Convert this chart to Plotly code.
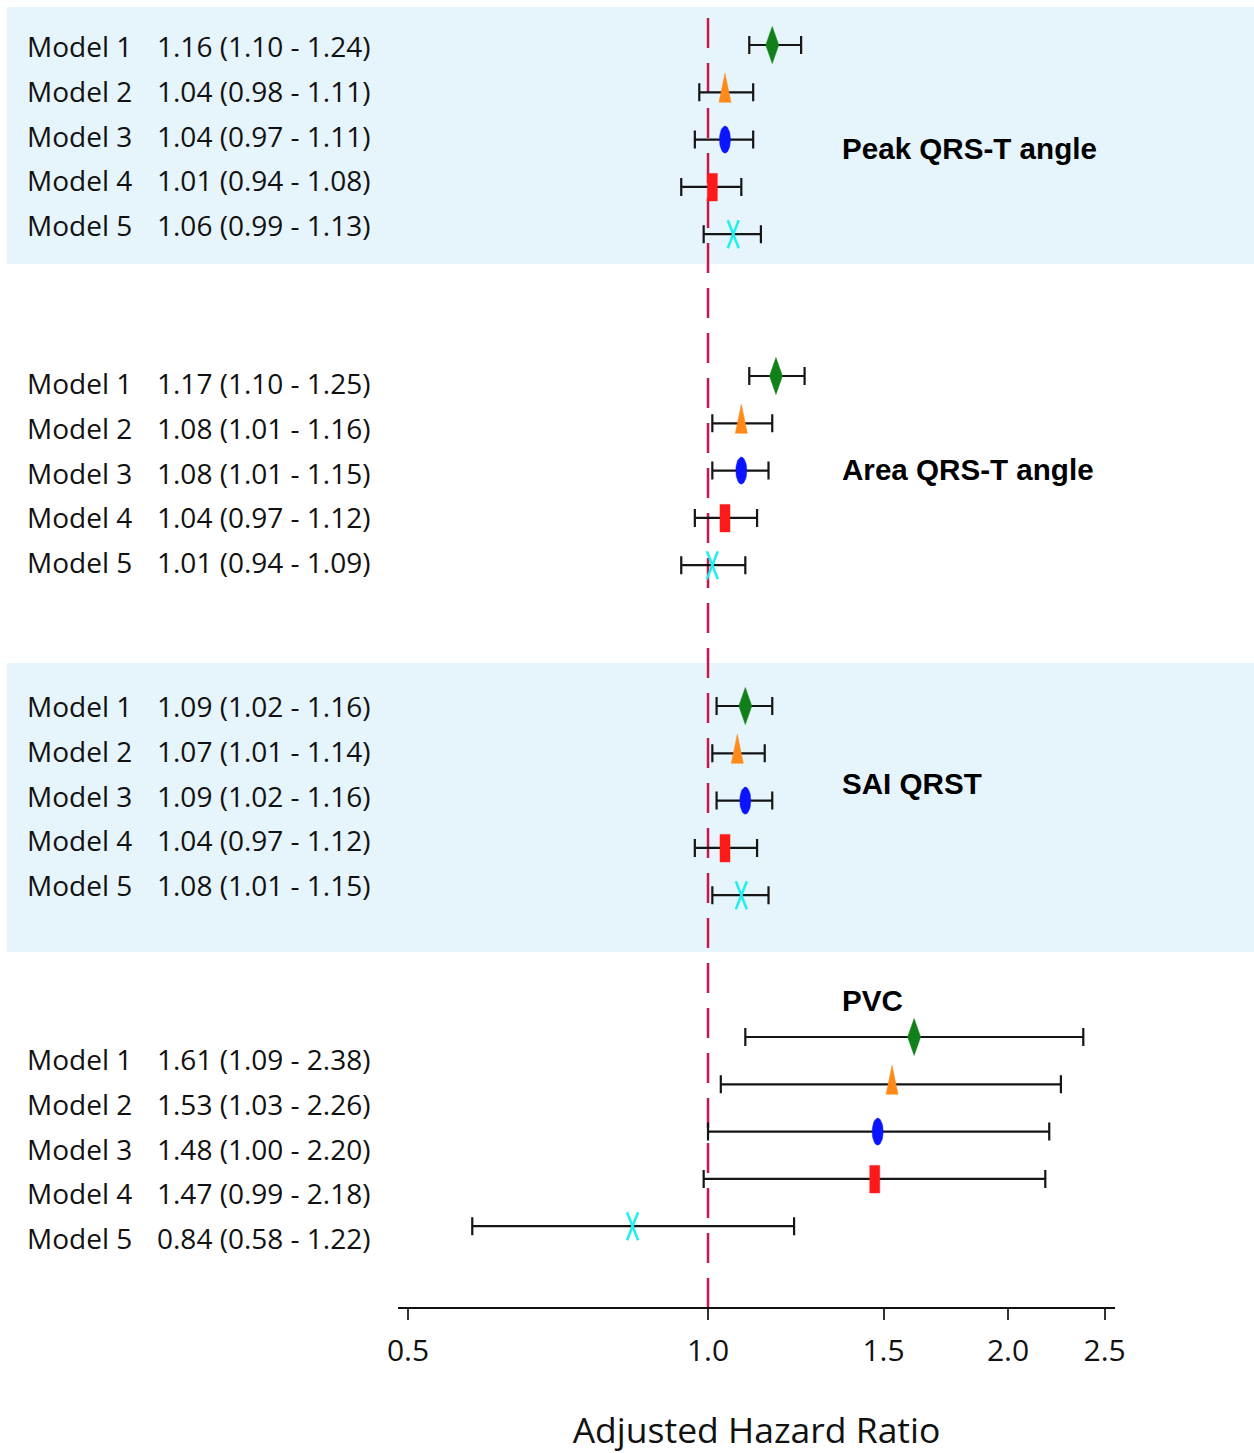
import math
import plotly.graph_objects as go

# ---------------- data ----------------
groups = ["Peak QRS-T angle", "Area QRS-T angle", "SAI QRST", "PVC"]
models = ["Model 1", "Model 2", "Model 3", "Model 4", "Model 5"]

hr_peak = [1.16, 1.04, 1.04, 1.01, 1.06]
lo_peak = [1.10, 0.98, 0.97, 0.94, 0.99]
hi_peak = [1.24, 1.11, 1.11, 1.08, 1.13]

hr_area = [1.17, 1.08, 1.08, 1.04, 1.01]
lo_area = [1.10, 1.01, 1.01, 0.97, 0.94]
hi_area = [1.25, 1.16, 1.15, 1.12, 1.09]

hr_sai = [1.09, 1.07, 1.09, 1.04, 1.08]
lo_sai = [1.02, 1.01, 1.02, 0.97, 1.01]
hi_sai = [1.16, 1.14, 1.16, 1.12, 1.15]

hr_pvc = [1.61, 1.53, 1.48, 1.47, 0.84]
lo_pvc = [1.09, 1.03, 1.00, 0.99, 0.58]
hi_pvc = [2.38, 2.26, 2.20, 2.18, 1.22]

hr_all = [hr_peak, hr_area, hr_sai, hr_pvc]
lo_all = [lo_peak, lo_area, lo_sai, lo_pvc]
hi_all = [hi_peak, hi_area, hi_sai, hi_pvc]

tick_vals = [0.5, 1.0, 1.5, 2.0, 2.5]
tick_text = ["0.5", "1.0", "1.5", "2.0", "2.5"]
ref_value = 1.0
x_title = "Adjusted Hazard Ratio"

# ---------------- layout / style constants ----------------
W, H = 1254, 1453
ML, MR, MT, MB = 398, 139, 0, 146
PLOT_W = W - ML - MR
PLOT_H = H - MT - MB
XR = [-0.3111, 0.4084]          # log10 range of x axis
PX_PER_DEC = PLOT_W / (XR[1] - XR[0])

mk_start = [45, 376, 706, 1037]  # first marker row of each group (px from top)
mk_step = 47.3
tx_start = [46, 383, 706, 1059]  # first text row of each group
tx_step = 44.8
label_y = [148, 469, 783, 1000]
label_x_px = 840
model_x_px = 25
value_x_px = 155
bands = [(7, 264), (663, 952)]
band_color = "#e6f4fc"
ref_color = "#c8174a"
err_color = "#151515"
colors = ["#12801a", "#ff8a1a", "#0a14ff", "#ff1a1a", "#1ef0f0"]

TEXT_FONT = "Open Sans, Noto Sans, sans-serif"
LABEL_FONT = "Liberation Sans, Arial, sans-serif"


def px_x(px):
    return (px - ML) / PLOT_W


def shape_pts(kind):
    if kind == 0:   # diamond
        return [(0, -18.5), (6.5, 0), (0, 18.5), (-6.5, 0), (0, -18.5)]
    if kind == 1:   # triangle
        return [(0, -19), (6, 10), (-6, 10), (0, -19)]
    if kind == 2:   # ellipse
        return [(5.5 * math.cos(2 * math.pi * k / 40), 13.5 * math.sin(2 * math.pi * k / 40)) for k in range(41)]
    if kind == 3:   # rectangle
        return [(-5, -13.5), (5, -13.5), (5, 14), (-5, 14), (-5, -13.5)]
    return None


fig = go.Figure()

# reference line
fig.add_trace(go.Scatter(
    x=[ref_value, ref_value], y=[18, PLOT_H], mode="lines",
    line=dict(color=ref_color, width=2.5, dash="30px,15px"),
    hoverinfo="skip", showlegend=False))

# error bars
ex, ey, ep, em = [], [], [], []
for g in range(len(groups)):
    for m in range(len(models)):
        ex.append(hr_all[g][m])
        ey.append(mk_start[g] + m * mk_step)
        ep.append(hi_all[g][m] - hr_all[g][m])
        em.append(hr_all[g][m] - lo_all[g][m])
fig.add_trace(go.Scatter(
    x=ex, y=ey, mode="markers",
    marker=dict(size=1, color="rgba(0,0,0,0)"),
    error_x=dict(type="data", symmetric=False, array=ep, arrayminus=em,
                 color=err_color, thickness=2.2, width=9),
    hoverinfo="skip", showlegend=False))

# markers (drawn as shapes derived from each estimate)
for m in range(len(models)):
    xs, ys = [], []
    for g in range(len(groups)):
        cx = hr_all[g][m]
        cy = mk_start[g] + m * mk_step
        if m == 4:
            for (a, b) in [((-5.5, -14), (5.5, 14)), ((5.5, -14), (-5.5, 14))]:
                xs += [cx * 10 ** (a[0] / PX_PER_DEC), cx * 10 ** (b[0] / PX_PER_DEC), None]
                ys += [cy + a[1], cy + b[1], None]
        else:
            for (dx, dy) in shape_pts(m):
                xs.append(cx * 10 ** (dx / PX_PER_DEC))
                ys.append(cy + dy)
            xs.append(None)
            ys.append(None)
    if m == 4:
        fig.add_trace(go.Scatter(x=xs, y=ys, mode="lines",
                                 line=dict(color=colors[m], width=2.5),
                                 hoverinfo="skip", showlegend=False))
    else:
        fig.add_trace(go.Scatter(x=xs, y=ys, mode="lines", fill="toself",
                                 fillcolor=colors[m], line=dict(color=colors[m], width=0.5),
                                 hoverinfo="skip", showlegend=False))

# bands
shapes = []
for (y0, y1) in bands:
    shapes.append(dict(type="rect", xref="paper", yref="y",
                       x0=px_x(7), x1=px_x(W), y0=y0, y1=y1,
                       fillcolor=band_color, line=dict(width=0), layer="below"))

# text annotations
annotations = []
for g in range(len(groups)):
    for m in range(len(models)):
        ty = tx_start[g] + m * tx_step
        annotations.append(dict(
            x=px_x(model_x_px), xref="paper", y=ty, yref="y",
            text=models[m], showarrow=False, xanchor="left", yanchor="middle",
            font=dict(family=TEXT_FONT, size=28, color="#111")))
        annotations.append(dict(
            x=px_x(value_x_px), xref="paper", y=ty, yref="y",
            text=f"{hr_all[g][m]:.2f} ({lo_all[g][m]:.2f} - {hi_all[g][m]:.2f})",
            showarrow=False, xanchor="left", yanchor="middle",
            font=dict(family=TEXT_FONT, size=28, color="#111")))
    annotations.append(dict(
        x=px_x(label_x_px), xref="paper", y=label_y[g], yref="y",
        text=f"<b>{groups[g]}</b>", showarrow=False, xanchor="left", yanchor="middle",
        font=dict(family=LABEL_FONT, size=29.6, color="#000")))

fig.update_layout(
    width=W, height=H, autosize=False,
    margin=dict(l=ML, r=MR, t=MT, b=MB, pad=0),
    paper_bgcolor="white", plot_bgcolor="white",
    shapes=shapes, annotations=annotations, showlegend=False,
    xaxis=dict(type="log", range=XR, showgrid=False, zeroline=False,
               showline=True, linecolor="#111", linewidth=1.5,
               ticks="outside", ticklen=11, tickwidth=1.5, tickcolor="#333",
               tickvals=tick_vals, ticktext=tick_text, ticklabelstandoff=5,
               tickfont=dict(family=TEXT_FONT, size=30, color="#111"),
               title=dict(text=x_title, standoff=51,
                          font=dict(family=TEXT_FONT, size=35.5, color="#111")),
               fixedrange=True),
    yaxis=dict(range=[PLOT_H, 0], visible=False, showgrid=False, zeroline=False,
               fixedrange=True),
)

fig.write_html("out.html")
